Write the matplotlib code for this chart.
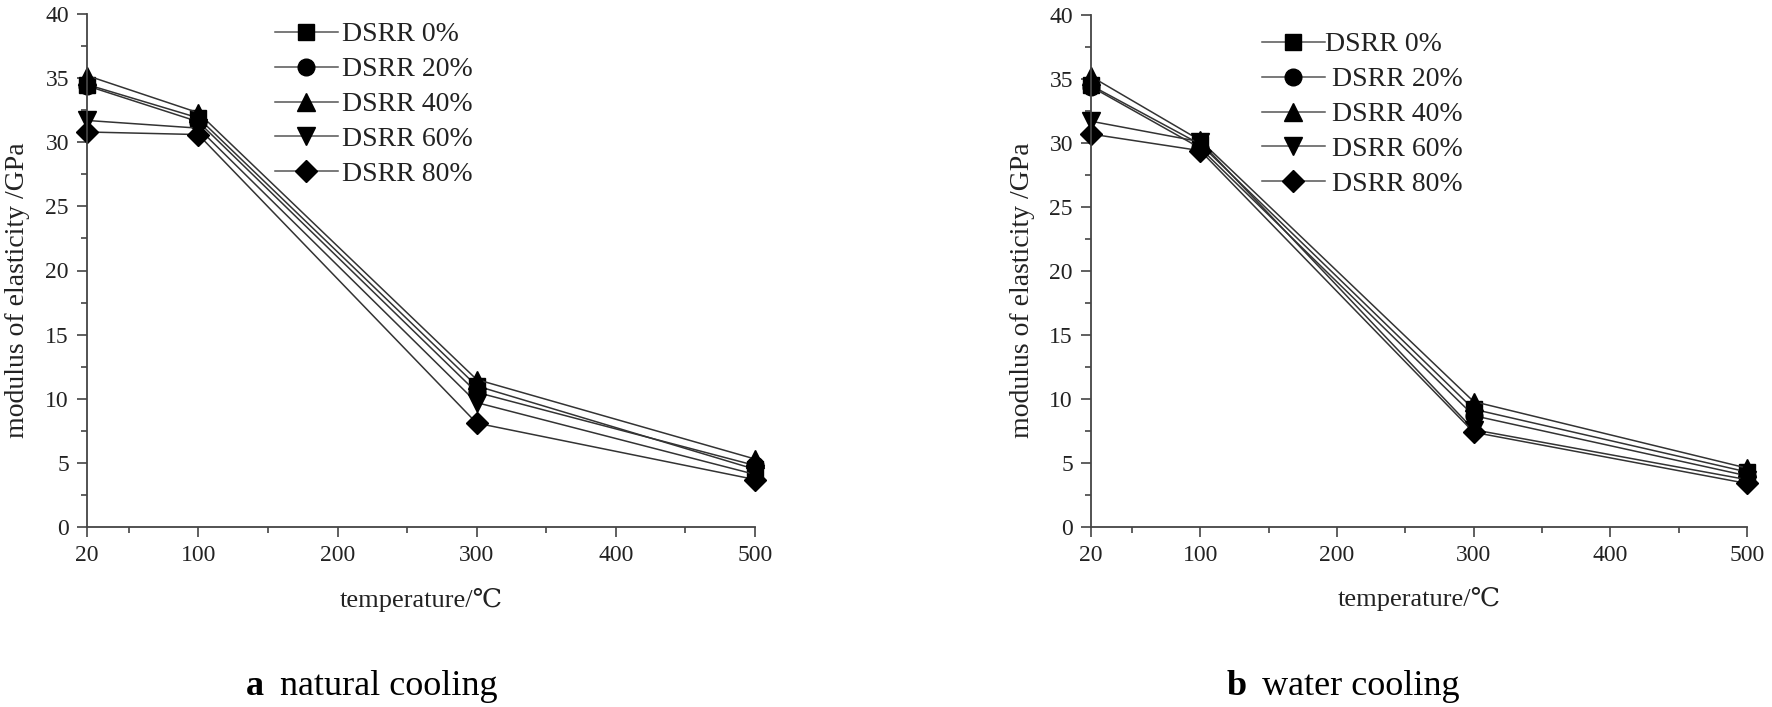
import numpy as np
import matplotlib
matplotlib.use('Agg')
import matplotlib.pyplot as plt
from matplotlib.ticker import MultipleLocator, FixedLocator

plt.rcParams['font.family'] = ['Liberation Serif', 'DejaVu Serif', 'Noto Sans CJK SC']

# data
temps = [20, 100, 300, 500]
labels = ['DSRR 0%', 'DSRR 20%', 'DSRR 40%', 'DSRR 60%', 'DSRR 80%']
markers = ['s', 'o', '^', 'v', 'D']
msizes = [11, 12, 13, 13, 11]

# a  natural cooling
nat_0 = [34.5, 31.9, 11.0, 4.5]
nat_20 = [34.4, 31.6, 10.5, 4.8]
nat_40 = [35.2, 32.3, 11.5, 5.3]
nat_60 = [31.7, 31.1, 9.7, 4.1]
nat_80 = [30.8, 30.6, 8.1, 3.7]

# b  water cooling
wat_0 = [34.5, 29.9, 9.2, 4.3]
wat_20 = [34.4, 29.6, 8.7, 4.0]
wat_40 = [35.2, 30.2, 9.8, 4.6]
wat_60 = [31.7, 30.1, 7.6, 3.7]
wat_80 = [30.7, 29.4, 7.4, 3.4]

W, H = 1772, 707
fig = plt.figure(figsize=(W / 100, H / 100), dpi=100)

def box(x0, x1, ytop, ybot):
    return [x0 / W, (H - ybot) / H, (x1 - x0) / W, (ybot - ytop) / H]

ax1 = fig.add_axes(box(87, 755, 14, 527))
ax2 = fig.add_axes(box(1091, 1747, 15, 527))

txtc = '#222222'

def draw(ax, series, leg_xy, labs, tpad):
    for ys, lab, mk, ms in zip(series, labs, markers, msizes):
        ax.plot(temps, ys, color='#333333', lw=1.1, marker=mk, ms=ms,
                mfc='black', mec='black', label=lab, clip_on=False)
    ax.set_xlim(20, 500)
    ax.set_ylim(0, 40)
    ax.xaxis.set_major_locator(FixedLocator([20, 100, 200, 300, 400, 500]))
    ax.xaxis.set_minor_locator(FixedLocator([50, 150, 250, 350, 450]))
    ax.yaxis.set_major_locator(MultipleLocator(5))
    ax.yaxis.set_minor_locator(MultipleLocator(2.5))
    for s in ['top', 'right']:
        ax.spines[s].set_visible(False)
    for s in ['left', 'bottom']:
        ax.spines[s].set_color('#444444')
        ax.spines[s].set_linewidth(1.3)
    ax.tick_params(which='major', direction='out', length=7, width=1.2,
                   colors='#444444', labelcolor=txtc, labelsize=17, pad=6)
    ax.tick_params(which='minor', direction='out', length=4, width=1.2,
                   colors='#444444')
    ax.set_xlabel('temperature/℃', fontsize=19, color=txtc, va='top')
    ax.xaxis.set_label_coords(0.5, -0.118)
    ax.set_ylabel('modulus of elasticity /GPa', fontsize=20, color=txtc)
    ax.yaxis.set_label_coords(-0.085, 0.462)
    leg = ax.legend(loc='upper left', bbox_to_anchor=leg_xy,
                    bbox_transform=fig.transFigure, frameon=False,
                    fontsize=20, handlelength=2.25, handletextpad=tpad,
                    labelspacing=0.34, borderpad=0, borderaxespad=0)
    for t in leg.get_texts():
        t.set_color(txtc)
    for l in leg.get_lines():
        l.set_color('#555555')

draw(ax1, [nat_0, nat_20, nat_40, nat_60, nat_80], (275 / W, 1 - 22 / H), labels, 0.18)
draw(ax2, [wat_0, wat_20, wat_40, wat_60, wat_80], (1262 / W, 1 - 32 / H),
     [labels[0]] + [' ' + l for l in labels[1:]], 0.03)

# captions
fig.text(264 / W, 12 / H, 'a', fontsize=26, fontweight='bold', ha='right', va='baseline')
fig.text(280 / W, 12 / H, 'natural cooling', fontsize=26, ha='left', va='baseline')
fig.text(1247 / W, 12 / H, 'b', fontsize=26, fontweight='bold', ha='right', va='baseline')
fig.text(1262 / W, 12 / H, 'water cooling', fontsize=26, ha='left', va='baseline')

fig.savefig('out.png', dpi=100)
